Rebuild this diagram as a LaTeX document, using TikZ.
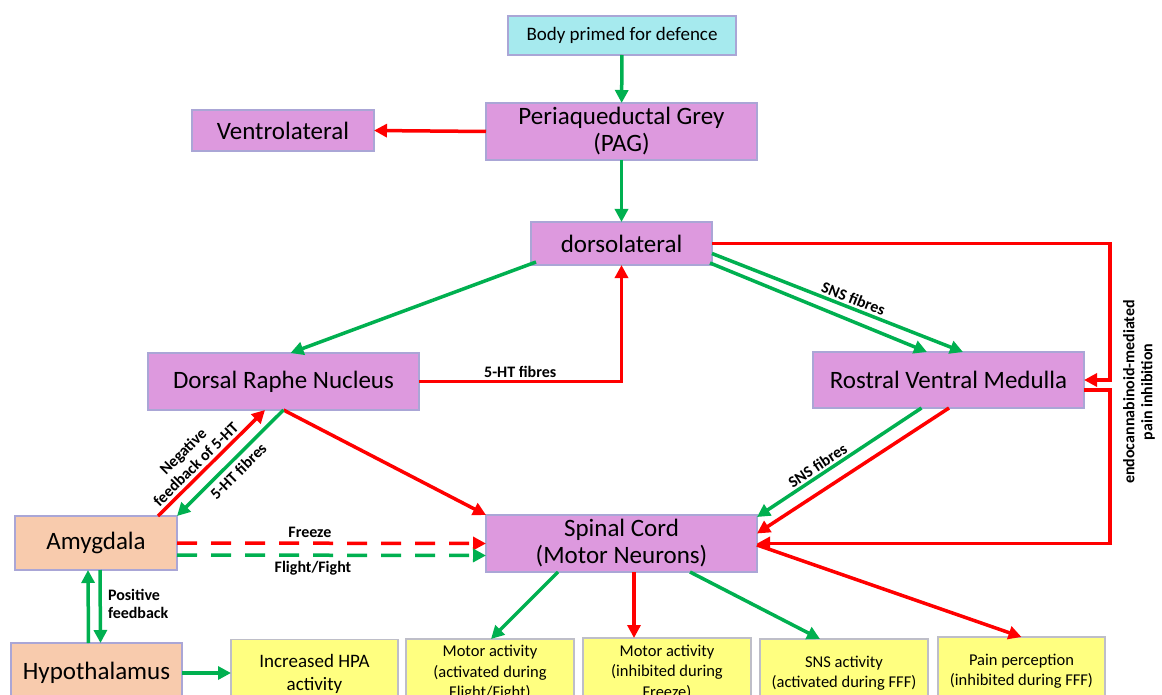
\documentclass[tikz,border=0pt]{standalone}
\usepackage{fontspec}
\setmainfont{Carlito}
\usepackage{tikz}
\usetikzlibrary{arrows.meta,positioning,calc}
\definecolor{boxpurple}{RGB}{221,153,222}
\definecolor{boxcyan}{RGB}{166,234,238}
\definecolor{boxpeach}{RGB}{248,203,173}
\definecolor{boxyellow}{RGB}{255,255,128}
\definecolor{edgelav}{RGB}{170,166,214}
\definecolor{edgegrey}{RGB}{190,190,200}
\definecolor{fibgreen}{RGB}{0,176,80}
\definecolor{fibred}{RGB}{255,0,0}

\begin{document}
\begin{tikzpicture}[
        x=1pt,y=-1pt,
        box/.style={draw=edgelav,line width=1.2pt,fill=boxpurple,inner sep=0pt,
                    outer sep=0pt,align=center,font=\fontsize{25}{27}\selectfont},
        topbox/.style={box,fill=boxcyan,font=\fontsize{19}{22}\selectfont},
        peachbox/.style={box,fill=boxpeach},
        outbox/.style={box,draw=edgegrey,fill=boxyellow,minimum width=168pt,
                       minimum height=68pt,font=\fontsize{16.5}{20.5}\selectfont},
        garr/.style={-{Triangle[length=13pt,width=13pt]},fibgreen,line width=3.5pt},
        rarr/.style={-{Triangle[length=13pt,width=13pt]},fibred,line width=3.5pt},
        dashgap/.style={dash pattern=on 20pt off 14pt},
        lbl/.style={font=\bfseries\fontsize{16}{18}\selectfont,text=black,inner sep=2pt},
      ]
        \clip (0,0) rectangle (1162,695);
        \fill[white] (0,0) rectangle (1162,695);
        % boxes
        \node[topbox,minimum width=228pt,minimum height=39pt](body) at (622,35.5)
          {Body primed for defence};
        \node[box,minimum width=271pt,minimum height=57pt](pag) at (621.5,131.5)
          {Periaqueductal Grey\\(PAG)};
        \node[box,minimum width=182pt,minimum height=41pt](ventro) at (283,130.5)
          {Ventrolateral};
        \node[box,minimum width=181pt,minimum height=43pt](dorso) at (621.5,243.5)
          {dorsolateral};
        \node[box,minimum width=271pt,minimum height=57pt](drn) at (283.5,381.5)
          {Dorsal Raphe Nucleus};
        \node[box,minimum width=271pt,minimum height=56pt](rvm) at (948.5,380)
          {Rostral Ventral Medulla};
        \node[box,minimum width=271pt,minimum height=57pt](spinal) at (621.5,543.5)
          {Spinal Cord\\(Motor Neurons)};
        \node[peachbox,minimum width=162pt,minimum height=54pt](amyg) at (96,543)
          {Amygdala};
        \node[peachbox,minimum width=171pt,minimum height=60pt](hypo) at (96.5,673)
          {Hypothalamus};
        \node[outbox,minimum width=167pt,font=\fontsize{19}{23}\selectfont](hpa)
          at (314.5,673.5) {Increased HPA\\activity};
        \node[outbox](motA) at (490,673)
          {Motor activity\\(activated during\\Flight/Fight)};
        \node[outbox](motI) at (667,672)
          {Motor activity\\(inhibited during\\Freeze)};
        \node[outbox](sns) at (844,673)
          {SNS activity\\(activated during FFF)};
        \node[outbox,minimum width=167pt](pain) at (1021.5,671)
          {Pain perception\\(inhibited during FFF)};
        \coordinate (xr) at (1110,0);
        % PAG column
        \draw[garr](body)--(pag);
        \draw[rarr](pag.west)--(ventro.east);
        \draw[garr](pag)--(dorso);
        \draw[garr]([xshift=5pt,yshift=3pt]dorso.south west)--([xshift=7pt]drn.north);
        \draw[rarr](drn.east)-|(dorso.south)
          node[lbl,pos=0.25,above=0pt]{5-HT fibres};
        \draw[garr]([yshift=-10pt]dorso.east)--([xshift=14.5pt]rvm.north)
          node[lbl,pos=0.55,sloped,above]{SNS fibres};
        \draw[garr]([xshift=-2pt,yshift=2pt]dorso.south east)--([xshift=-21.5pt]rvm.north);
        \draw[rarr](dorso.east)-|(xr |- rvm.east)--(rvm.east);
        \node[lbl,rotate=90,align=center](endo) at (1139,392)
          {endocannabinoid-mediated\\pain inhibition};
        % into the spinal cord
        \draw[rarr]([yshift=-10pt]rvm.east)-|(xr |- spinal.east)--(spinal.east);
        \draw[garr]([xshift=-27pt]rvm.south)--([yshift=-2pt]spinal.north east)
          node[lbl,pos=0.6,sloped,above]{SNS fibres};
        \draw[rarr]([xshift=0.5pt]rvm.south)--([yshift=10pt]spinal.east);
        \draw[rarr](drn.south)--(spinal.north west);
        % amygdala and hypothalamus
        \draw[rarr]([xshift=62pt]amyg.north)--([xshift=-18.5pt]drn.south)
          node[lbl,pos=0.42,sloped,above=1pt,align=center]{Negative\\feedback of 5-HT};
        \draw[garr](drn.south)--(amyg.north east)
          node[lbl,pos=0.5,sloped,below,inner sep=4pt]{5-HT fibres};
        \draw[rarr,dashgap](amyg.east)--(spinal.west)
          node[lbl,pos=0.43,above=2pt]{Freeze};
        \draw[garr,dashgap]([yshift=-12pt]amyg.east)--([yshift=-12pt]spinal.west)
          node[lbl,pos=0.44,below=2pt]{Flight/Fight};
        \draw[garr]([xshift=-8pt]hypo.north)--([xshift=-8pt]amyg.south);
        \draw[garr]([xshift=4pt]amyg.south)--([xshift=4pt]hypo.north)
          node[lbl,midway,right=4pt,align=left,yshift=3pt]{Positive\\feedback};
        \draw[garr](hypo.east)--(hypo.east -| hpa.west);
        % outputs
        \draw[garr]([xshift=-63.5pt]spinal.south)--([xshift=1pt]motA.north);
        \draw[rarr]([xshift=12.5pt]spinal.south)--([xshift=-33pt]motI.north);
        \draw[garr]([xshift=68.5pt]spinal.south)--([xshift=-24pt]sns.north);
        \draw[rarr]([yshift=-1.5pt]spinal.east)--(pain.north);
      \end{tikzpicture}
\end{document}
